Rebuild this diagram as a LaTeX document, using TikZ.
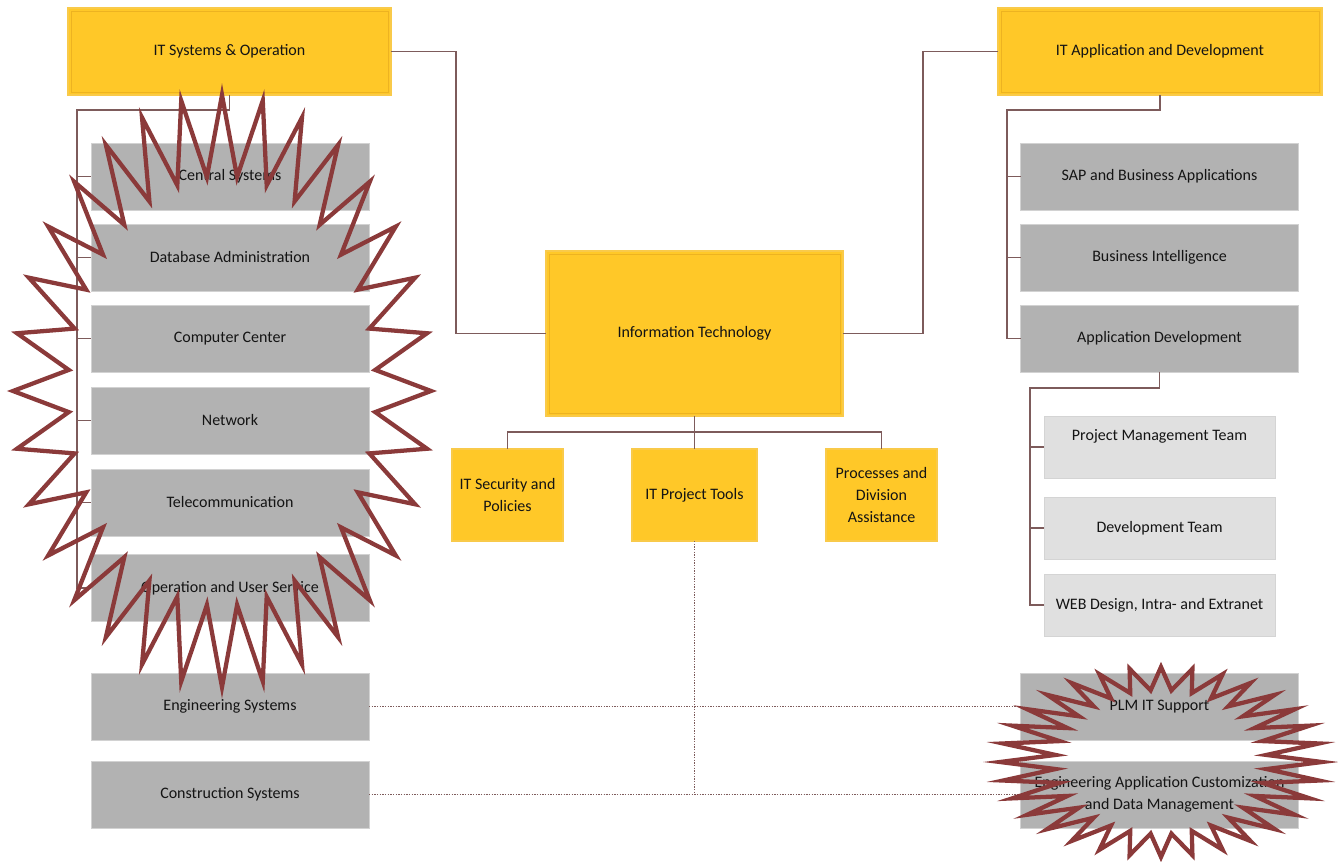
\documentclass[tikz,border=0pt]{standalone}
\usepackage{fontspec}
\setmainfont{Carlito}
\definecolor{yfill}{HTML}{FFC828}
\definecolor{yedge}{HTML}{F9CA4A}
\definecolor{ydark}{HTML}{EDB321}
\definecolor{gfill}{HTML}{B2B2B2}
\definecolor{gedge}{HTML}{D2D2D2}
\definecolor{lfill}{HTML}{E0E0E0}
\definecolor{ledge}{HTML}{D4D4D4}
\definecolor{lnk}{HTML}{7D5B5B}
\definecolor{brst}{HTML}{8B3A3A}
\definecolor{txt}{HTML}{141414}
\begin{document}
\begin{tikzpicture}[x=0.75pt,y=-0.75pt]
\tikzset{box/.style={inner sep=0pt,outer sep=0pt,
                     align=center,text=txt,
                     font=\fontsize{12}{16.5}\selectfont},
         ybox/.style={box,fill=yfill,draw=yedge,line width=0.8pt},
         framed/.style={path picture={\draw[ydark,line width=0.6pt]
            ([shift={(2.2pt,2.2pt)}]path picture bounding box.south west) rectangle
            ([shift={(-2.2pt,-2.2pt)}]path picture bounding box.north east);}},
         gbox/.style={box,fill=gfill,draw=gedge,line width=0.6pt,
                      minimum width=208.5pt,minimum height=50.25pt},
         lbox/.style={box,fill=lfill,draw=ledge,line width=0.6pt,
                      minimum width=173.25pt,minimum height=46.5pt},
         link/.style={draw=lnk,line width=1pt},
         dots/.style={draw=lnk,line width=1pt,dash pattern=on 1pt off 1pt},
         burst/.style={draw=brst,line width=3.2pt,line join=miter}
}
\useasboundingbox (0,0) rectangle (1338,862);
% yellow units
\node[ybox,framed,minimum width=222.75pt,minimum height=123.75pt] (it) at (694.5,333.5) {Information Technology};
\node[ybox,framed,minimum width=242.25pt,minimum height=65.25pt] (itso) at (229.5,51.5) {IT Systems \& Operation};
\node[ybox,framed,minimum width=243pt,minimum height=65.25pt] (itad) at (1160,51.5) {IT Application and Development};
\node[ybox,minimum width=83.25pt,minimum height=69pt] (sec)   at (507.5,495) {IT Security and\\Policies};
\node[ybox,minimum width=93.75pt,minimum height=69pt] (tools) at (694.5,495) {IT Project Tools};
\node[ybox,minimum width=83.25pt,minimum height=69pt] (pda)   at (881.5,495) {Processes and\\Division\\Assistance};
% left column
\node[gbox] (cs)   at (230,176.5) {Central Systems};
\node[gbox] (db)   at (230,257.5) {Database Administration};
\node[gbox] (cc)   at (230,338.5) {Computer Center};
\node[gbox] (net)  at (230,420.5) {Network};
\node[gbox] (tel)  at (230,502.5) {Telecommunication};
\node[gbox] (ous)  at (230,588)   {Operation and User Service};
\node[gbox] (eng)  at (230,706.5) {Engineering Systems};
\node[gbox] (cons) at (230,794.5) {Construction Systems};
% right column
\node[gbox] (sap) at (1159.5,176.5) {SAP and Business Applications};
\node[gbox] (bi)  at (1159.5,257.5) {Business Intelligence};
\node[gbox] (ad)  at (1159.5,338.5) {Application Development};
\node[lbox] (pmt) at (1159.5,447)   {Project Management Team\\[-4pt]\strut};
\node[lbox] (dt)  at (1159.5,528)   {Development Team};
\node[lbox] (web) at (1159.5,605)   {WEB Design, Intra- and Extranet};
\node[gbox] (plm) at (1159.5,706.5) {PLM IT Support};
\node[gbox] (eac) at (1159.5,794.5) {Engineering Application Customization\\and Data Management};
% connectors
\coordinate (lj) at (456,0);
\coordinate (rj) at (923,0);
\coordinate (bj) at (0,432);
\draw[link] (itso.east) -- (itso.east -| lj) |- (it.west);
\draw[link] (itad.west) -- (itad.west -| rj) |- (it.east);
\draw[link] (it.south) -- (tools.north);
\draw[link] (sec.north) |- (it.south |- bj) -| (pda.north);
\coordinate (lbus) at (77,110);
\draw[link] (itso.south) |- (lbus) -- (lbus |- ous.west) -- (ous.west);
\foreach \n in {cs,db,cc,net,tel}
  \draw[link] (lbus |- \n.west) -- (\n.west);
\coordinate (rbus) at (1007,110);
\draw[link] (itad.south) |- (rbus) -- (rbus |- ad.west) -- (ad.west);
\foreach \n in {sap,bi}
  \draw[link] (rbus |- \n.west) -- (\n.west);
\coordinate (abus) at (1030,388);
\draw[link] (ad.south) |- (abus) -- (abus |- web.west) -- (web.west);
\foreach \n in {pmt,dt}
  \draw[link] (abus |- \n.west) -- (\n.west);
\draw[dots] (tools.south) -- (tools.south |- cons.east);
\draw[dots] (eng.east) -- (plm.west);
\draw[dots] (cons.east) -- (eac.west);
% bursts
\draw[burst] plot[samples at={0,...,63},variable=\k]
  ({222+((mod(\k,2)==0)?209:154)*sin(\k*5.625)},{391-((mod(\k,2)==0)?296:215)*cos(\k*5.625)}) -- cycle;
\draw[burst] plot[samples at={0,...,63},variable=\k]
  ({1161+((mod(\k,2)==0)?161:106)*sin(\k*5.625)},{762-((mod(\k,2)==0)?95:72)*cos(\k*5.625)}) -- cycle;
\end{tikzpicture}
\end{document}
